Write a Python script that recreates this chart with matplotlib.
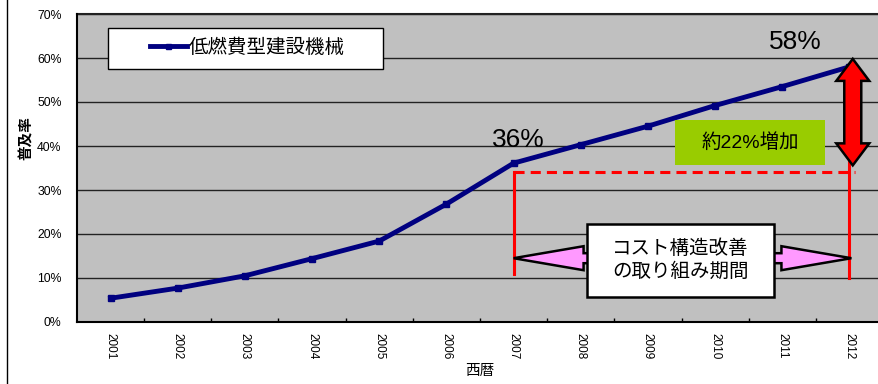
import matplotlib
matplotlib.use("Agg")
import matplotlib.pyplot as plt
from matplotlib.patches import Rectangle, Polygon

plt.rcParams['font.family'] = ['Liberation Sans', 'Noto Sans CJK JP', 'DejaVu Sans']

# data
years = ["2001", "2002", "2003", "2004", "2005", "2006",
         "2007", "2008", "2009", "2010", "2011", "2012"]
rate = [5.4, 7.7, 10.5, 14.4, 18.4, 26.8, 36.1, 40.3, 44.5, 49.2, 53.5, 58.0]
series_name = "低燃費型建設機械"
y_ticks = [0, 10, 20, 30, 40, 50, 60, 70]
y_tick_labels = ["0%", "10%", "20%", "30%", "40%", "50%", "60%", "70%"]

fig = plt.figure(figsize=(8.79, 3.84), dpi=100)
ax = fig.add_axes([77 / 879, 62 / 384, 806 / 879, 308 / 384])
ax.set_facecolor("#C0C0C0")

x = list(range(len(years)))
ax.plot(x, rate, color="#000080", lw=3.5, marker="s", markersize=4.5, zorder=5,
        label=series_name, solid_joinstyle="round")

ax.set_xlim(-0.5, 11.5)
ax.set_ylim(0, 70)
ax.set_yticks(y_ticks)
ax.set_yticklabels(y_tick_labels, fontsize=8.8)
ax.tick_params(axis="y", length=0, pad=11)
ax.set_xticks(x)
ax.set_xticklabels(years, rotation=270, fontsize=8.5)
ax.tick_params(axis="x", which="major", length=0, pad=8)
ax.set_xticks([i + 0.5 for i in x[:-1]], minor=True)
ax.tick_params(axis="x", which="minor", direction="in", length=3, width=1)
ax.grid(axis="y", color="#222222", lw=1)
ax.set_axisbelow(True)
for s in ["top", "right"]:
    ax.spines[s].set_visible(False)
ax.spines["left"].set_linewidth(1.5)
ax.spines["bottom"].set_linewidth(1.5)
ax.axhline(70, color="#222222", lw=1.5, clip_on=False)

fig.text(27 / 879, 1 - 138 / 384, "普及率", rotation=90, fontsize=10.5,
         fontweight="bold", ha="center", va="center")
ax.set_xlabel("西暦", fontsize=10.5, labelpad=3)

# legend box
ax.add_patch(Rectangle((0.0385, 0.821), 0.3412, 0.1335, transform=ax.transAxes,
                       facecolor="white", edgecolor="black", lw=1, zorder=6))
leg = ax.legend(loc="center", bbox_to_anchor=(0.2115, 0.8896), frameon=False,
                fontsize=14, handlelength=1.9, handletextpad=0.1, markerscale=0.8)
leg.set_zorder(7)

# pixel -> data scale
px_x = 12 / 806
px_y = 70 / 308

# value labels
ax.text(6.07, 41.4, "36%", fontsize=19, ha="center", va="center", zorder=8)
ax.text(10.2, 63.75, "58%", fontsize=19, ha="center", va="center", zorder=8)

# red guide lines
ax.plot([6.0, 11.09], [34, 34], color="red", lw=2.2, ls=(0, (3.3, 2)), zorder=6)
ax.plot([6.0, 6.0], [10.9, 34], color="red", lw=2.2, zorder=6)
ax.plot([11.0, 11.0], [10, 37], color="red", lw=2.2, zorder=6)

# green box
ax.add_patch(Rectangle((8.41, 35.7), 2.23, 10.2, facecolor="#99CC00",
                       edgecolor="none", zorder=6))
ax.text(9.52, 40.8, "約22%増加", fontsize=14, ha="center", va="center", zorder=7)


def double_arrow_h(x0, x1, y, head_len, head_h, shaft_h):
    hl = head_len * px_x
    hh = head_h / 2 * px_y
    sh = shaft_h / 2 * px_y
    return [(x0, y), (x0 + hl, y + hh), (x0 + hl, y + sh), (x1 - hl, y + sh),
            (x1 - hl, y + hh), (x1, y), (x1 - hl, y - hh), (x1 - hl, y - sh),
            (x0 + hl, y - sh), (x0 + hl, y - hh)]


def double_arrow_v(x, y0, y1, head_len, head_w, shaft_w):
    hl = head_len * px_y
    hw = head_w / 2 * px_x
    sw = shaft_w / 2 * px_x
    return [(x, y0), (x + hw, y0 + hl), (x + sw, y0 + hl), (x + sw, y1 - hl),
            (x + hw, y1 - hl), (x, y1), (x - hw, y1 - hl), (x - sw, y1 - hl),
            (x - sw, y0 + hl), (x - hw, y0 + hl)]


# red increase arrow
ax.add_patch(Polygon(double_arrow_v(11.05, 35.6, 59.8, 22, 33, 17),
                     facecolor="red", edgecolor="black", lw=1.8, zorder=9,
                     clip_on=False))

# pink period arrow
ax.add_patch(Polygon(double_arrow_h(6.0, 11.03, 14.5, 70, 24, 10),
                     facecolor="#FF99FF", edgecolor="black", lw=1.8, zorder=7))

# white period box
ax.add_patch(Rectangle((7.1, 5.7), 2.77, 16.6, facecolor="white",
                       edgecolor="black", lw=1.8, zorder=8))
ax.text(8.48, 14.0, "コスト構造改善\nの取り組み期間", fontsize=14, ha="center",
        va="center", linespacing=1.3, zorder=9)

# chart frame left edge
fig.add_artist(plt.Line2D([7 / 879, 7 / 879], [0, 1], color="black", lw=1,
                          transform=fig.transFigure))

fig.savefig("out.png", dpi=100)
